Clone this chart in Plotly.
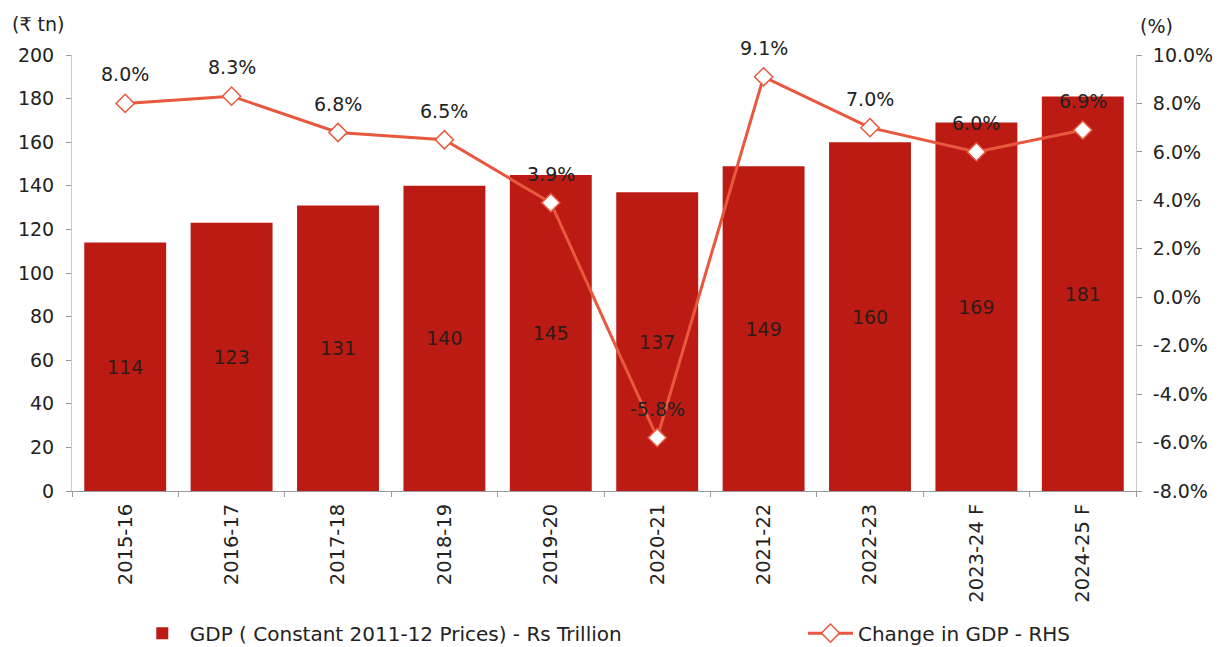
import plotly.graph_objects as go
from plotly.subplots import make_subplots

years = ["2015-16", "2016-17", "2017-18", "2018-19", "2019-20",
         "2020-21", "2021-22", "2022-23", "2023-24 F", "2024-25 F"]
gdp_trillion = [114, 123, 131, 140, 145, 137, 149, 160, 169, 181]
gdp_growth_pct = [8.0, 8.3, 6.8, 6.5, 3.9, -5.8, 9.1, 7.0, 6.0, 6.9]
left_ticks = [0, 20, 40, 60, 80, 100, 120, 140, 160, 180, 200]
right_ticks = [-8, -6, -4, -2, 0, 2, 4, 6, 8, 10]

BAR_RED = "#BC1B14"
LINE_ORANGE = "#E8583E"
FONT = "DejaVu Sans, Liberation Sans, sans-serif"

fig = make_subplots(specs=[[{"secondary_y": True}]])

fig.add_trace(go.Bar(
    x=years, y=gdp_trillion,
    name="GDP ( Constant 2011-12 Prices) - Rs Trillion",
    marker=dict(color=BAR_RED, line=dict(width=0)),
    text=[str(v) for v in gdp_trillion],
    textposition="inside", insidetextanchor="middle",
    textfont=dict(color="#2e1c1a", size=19, family=FONT),
    legend="legend",
), secondary_y=False)

fig.add_trace(go.Scatter(
    x=years, y=gdp_growth_pct,
    name="Change in GDP - RHS",
    mode="lines+markers",
    line=dict(color=LINE_ORANGE, width=3),
    marker=dict(symbol="diamond", size=14, color="white",
                line=dict(color=LINE_ORANGE, width=1.5)),
    legend="legend2",
), secondary_y=True)

# growth labels above each diamond
for yr, g in zip(years, gdp_growth_pct):
    fig.add_annotation(x=yr, y=g, yref="y2", text=f"{g:.1f}%",
                       showarrow=False, yshift=29,
                       font=dict(size=19, color="#222", family=FONT))

fig.add_annotation(xref="paper", yref="paper", x=-0.058, y=1.0, yshift=44,
                   text="(₹ tn)", showarrow=False, xanchor="left",
                   font=dict(size=19, color="#222", family=FONT))
fig.add_annotation(xref="paper", yref="paper", x=1.002, y=1.0, yshift=42,
                   text="(%)", showarrow=False, xanchor="left",
                   font=dict(size=19, color="#222", family=FONT))

legend_style = dict(orientation="h", xanchor="left", y=-0.326,
                    yanchor="middle", font=dict(size=20, color="#222"),
                    itemwidth=45, bgcolor="rgba(0,0,0,0)")

fig.update_layout(
    width=1221, height=647,
    margin=dict(l=72, r=85, t=55, b=156, autoexpand=False),
    plot_bgcolor="white", paper_bgcolor="white",
    bargap=0.23,
    font=dict(family=FONT, size=19, color="#222"),
    showlegend=True,
    legend=dict(x=0.059, **legend_style),
    legend2=dict(x=0.687, **legend_style),
)

fig.update_xaxes(
    domain=[0, 1], range=[-0.5, len(years) - 0.5],
    tickangle=-90, tickfont=dict(size=19.5), automargin=False,
    ticklabelstandoff=4,
    showline=True, linecolor="#999", linewidth=1,
    ticks="outside", tickson="boundaries", ticklen=5, tickcolor="#999",
    showgrid=False,
)
fig.update_yaxes(
    range=[0, 200], tickvals=left_ticks, ticktext=[str(v) for v in left_ticks],
    showgrid=False, zeroline=False, automargin=False, ticklabelstandoff=8,
    showline=True, linecolor="#ccc", ticks="outside", ticklen=5,
    tickcolor="#999", tickfont=dict(size=19), secondary_y=False,
)
fig.update_yaxes(
    range=[-8, 10], tickvals=right_ticks,
    ticktext=[f"{v:.1f}%" for v in right_ticks],
    showgrid=False, zeroline=False, automargin=False, ticklabelstandoff=7,
    showline=True, linecolor="#ccc", ticks="outside", ticklen=5,
    tickcolor="#999", tickfont=dict(size=19), secondary_y=True,
)

fig.write_html("out.html")
